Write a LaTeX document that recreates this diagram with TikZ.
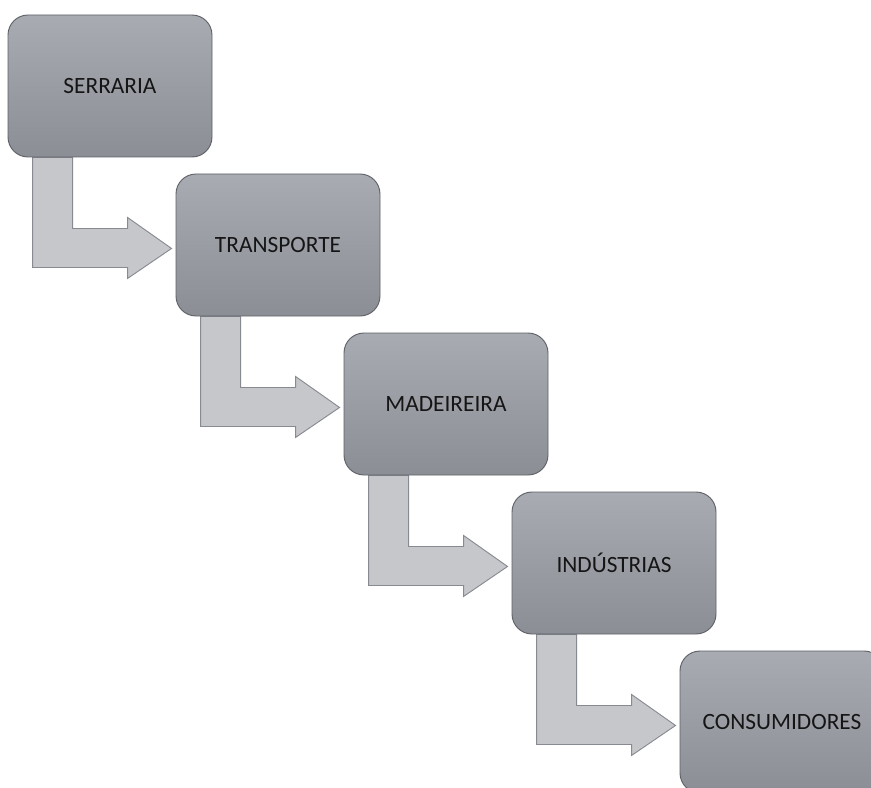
\documentclass[tikz,border=0pt]{standalone}
\usepackage{fontspec}
\setmainfont{Carlito}
\usetikzlibrary{backgrounds}
\definecolor{boxtop}{HTML}{A8ABB1}
\definecolor{boxbot}{HTML}{8B8E95}
\definecolor{boxline}{HTML}{5E6167}
\definecolor{arrfill}{HTML}{C5C7CB}
\definecolor{arrline}{HTML}{878A90}
\definecolor{txt}{HTML}{151515}
\tikzset{
  stagebox/.style={draw=boxline, line width=0.7pt, rounded corners=15pt,
    top color=boxtop, bottom color=boxbot, minimum width=153pt, minimum height=106.5pt,
    inner sep=0pt, font=\fontsize{17.5}{21}\selectfont, text=txt},
  bentarrow/.style={draw=arrline, line width=0.7pt, fill=arrfill, line join=miter}
}
\newcommand{\bentarr}[1]{%
  \begin{scope}[shift={(#1.south west)}]
    \draw[bentarrow] (25,0) -- (65,0) -- (65,71) -- (120,71) -- (120,60) -- (164,91)
      -- (120,121) -- (120,110) -- (25,110) -- cycle;
  \end{scope}}
\begin{document}
\begin{tikzpicture}[x=0.75pt,y=-0.75pt]
\useasboundingbox (0,0) rectangle (871,788);
\clip (0,0) rectangle (871,788);
\node[stagebox] (s1) at (110,86) {SERRARIA};
\node[stagebox] (s2) at (278,245) {TRANSPORTE};
\node[stagebox] (s3) at (446,404) {MADEIREIRA};
\node[stagebox] (s4) at (614,563) {INDÚSTRIAS};
\node[stagebox] (s5) at (782,722) {CONSUMIDORES};
\begin{scope}[on background layer]
  \bentarr{s1}
  \bentarr{s2}
  \bentarr{s3}
  \bentarr{s4}
\end{scope}
\end{tikzpicture}
\end{document}
